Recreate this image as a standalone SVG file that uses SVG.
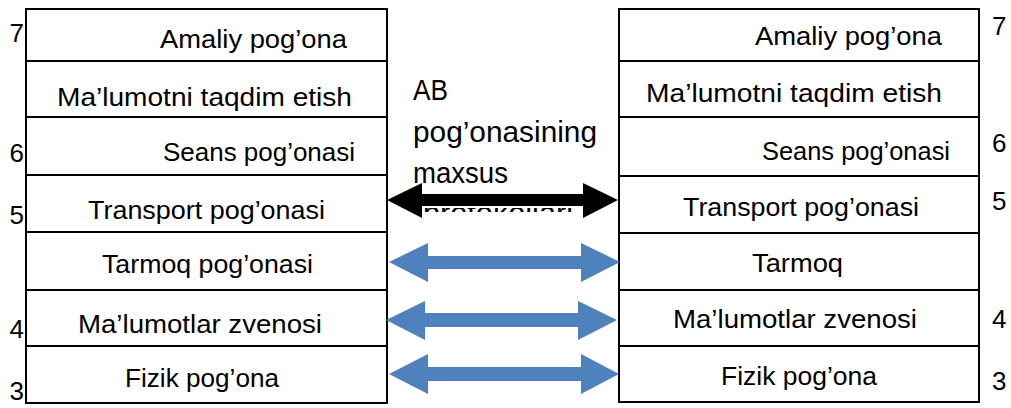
<svg xmlns="http://www.w3.org/2000/svg" width="1011" height="408" viewBox="0 0 1011 408">
<style>
.cell{fill:#fff;stroke:#000;stroke-width:2}
.lbl{font-family:"Liberation Sans",Arial,sans-serif;font-size:26px;fill:#000}
.num{font-family:"Liberation Sans",Arial,sans-serif;font-size:26px;fill:#000}
.mid{font-family:"Liberation Sans",Arial,sans-serif;font-size:29px;fill:#000}
.blue{fill:#4F81BD}
.black{fill:#000}
</style>
<defs>
<clipPath id="cut"><rect x="400" y="208" width="220" height="4"/></clipPath>
</defs>
<rect width="1011" height="408" fill="#fff"/>

<g id="left-stack">
<g id="L7"><rect class="cell" x="26" y="9" width="361" height="52"/><text class="lbl" x="160" y="48" textLength="187" lengthAdjust="spacingAndGlyphs">Amaliy pog’ona</text></g>
<g id="L6a"><rect class="cell" x="26" y="61" width="361" height="56"/><text class="lbl" x="57" y="106" textLength="295" lengthAdjust="spacingAndGlyphs">Ma’lumotni taqdim etish</text></g>
<g id="L6"><rect class="cell" x="26" y="117" width="361" height="58"/><text class="lbl" x="163" y="161" textLength="192" lengthAdjust="spacingAndGlyphs">Seans pog’onasi</text></g>
<g id="L5"><rect class="cell" x="26" y="175" width="361" height="57"/><text class="lbl" x="88" y="219" textLength="237" lengthAdjust="spacingAndGlyphs">Transport pog’onasi</text></g>
<g id="L4a"><rect class="cell" x="26" y="232" width="361" height="58"/><text class="lbl" x="102" y="273" textLength="211" lengthAdjust="spacingAndGlyphs">Tarmoq pog’onasi</text></g>
<g id="L4"><rect class="cell" x="26" y="290" width="361" height="56"/><text class="lbl" x="78" y="333" textLength="244" lengthAdjust="spacingAndGlyphs">Ma’lumotlar zvenosi</text></g>
<g id="L3"><rect class="cell" x="26" y="346" width="361" height="57"/><text class="lbl" x="125" y="387" textLength="154" lengthAdjust="spacingAndGlyphs">Fizik pog’ona</text></g>
</g>

<g id="left-numbers">
<text class="num" x="24" y="42" text-anchor="end">7</text>
<text class="num" x="24" y="162" text-anchor="end">6</text>
<text class="num" x="24" y="224" text-anchor="end">5</text>
<text class="num" x="24" y="338" text-anchor="end">4</text>
<text class="num" x="24" y="400" text-anchor="end">3</text>
</g>

<g id="right-stack">
<g id="R7"><rect class="cell" x="619" y="9" width="360" height="52"/><text class="lbl" x="755" y="45" textLength="187" lengthAdjust="spacingAndGlyphs">Amaliy pog’ona</text></g>
<g id="R6a"><rect class="cell" x="619" y="61" width="360" height="56"/><text class="lbl" x="646" y="102" textLength="296" lengthAdjust="spacingAndGlyphs">Ma’lumotni taqdim etish</text></g>
<g id="R6"><rect class="cell" x="619" y="117" width="360" height="59"/><text class="lbl" x="762" y="160" textLength="188" lengthAdjust="spacingAndGlyphs">Seans pog’onasi</text></g>
<g id="R5"><rect class="cell" x="619" y="176" width="360" height="57"/><text class="lbl" x="683" y="216" textLength="236" lengthAdjust="spacingAndGlyphs">Transport pog’onasi</text></g>
<g id="R4a"><rect class="cell" x="619" y="233" width="360" height="57"/><text class="lbl" x="752" y="272" textLength="91" lengthAdjust="spacingAndGlyphs">Tarmoq</text></g>
<g id="R4"><rect class="cell" x="619" y="290" width="360" height="56"/><text class="lbl" x="673" y="328" textLength="244" lengthAdjust="spacingAndGlyphs">Ma’lumotlar zvenosi</text></g>
<g id="R3"><rect class="cell" x="619" y="346" width="360" height="56"/><text class="lbl" x="721" y="385" textLength="156" lengthAdjust="spacingAndGlyphs">Fizik pog’ona</text></g>
</g>

<g id="right-numbers">
<text class="num" x="992" y="35">7</text>
<text class="num" x="992" y="152">6</text>
<text class="num" x="992" y="210">5</text>
<text class="num" x="992" y="328">4</text>
<text class="num" x="992" y="390">3</text>
</g>

<g id="ab-label">
<text class="mid" x="413" y="100" textLength="35" lengthAdjust="spacingAndGlyphs">AB</text>
<text class="mid" x="413" y="142" textLength="184" lengthAdjust="spacingAndGlyphs">pog’onasining</text>
<text class="mid" x="413" y="183" textLength="95" lengthAdjust="spacingAndGlyphs">maxsus</text>
<text class="mid" x="423" y="223" clip-path="url(#cut)" textLength="150" lengthAdjust="spacingAndGlyphs">protokollari</text>
</g>

<g id="connectors">
<polygon class="black" points="387,200 422,183 422,194 583,194 583,183 618,200 583,218 583,206 422,206 422,218"/>
<polygon class="blue" points="389,262 428,243 428,256 581,256 581,243 620,262 581,282 581,269 428,269 428,282"/>
<polygon class="blue" points="386,320 425,301 425,313 578,313 578,301 617,320 578,340 578,327 425,327 425,340"/>
<polygon class="blue" points="389,374 428,354 428,367 581,367 581,354 619,374 581,394 581,381 428,381 428,394"/>
</g>
</svg>
